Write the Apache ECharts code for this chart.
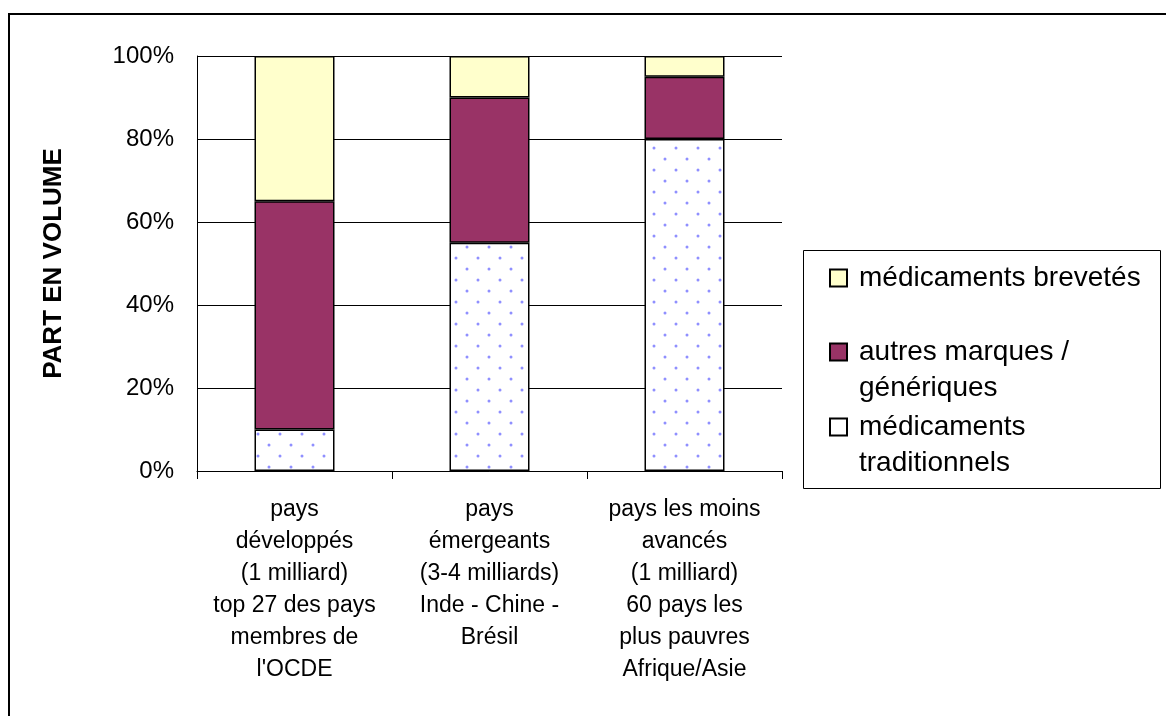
<!DOCTYPE html>
<html>
<head>
<meta charset="utf-8">
<script src="https://cdn.jsdelivr.net/npm/echarts@6/dist/echarts.min.js"></script>
<style>
html,body{margin:0;padding:0;background:#fff;}
#chart{width:1166px;height:716px;}
</style>
</head>
<body>
<div id="chart"></div>
<script>
const categories = [
  "pays\ndéveloppés\n(1 milliard)\ntop 27 des pays\nmembres de\nl'OCDE",
  "pays\némergeants\n(3-4 milliards)\nInde - Chine -\nBrésil",
  "pays les moins\navancés\n(1 milliard)\n60 pays les\nplus pauvres\nAfrique/Asie"
];
const seriesNames = ["médicaments traditionnels", "autres marques / génériques", "médicaments brevetés"];
const legendLabels = ["\nmédicaments\ntraditionnels", "\nautres marques /\ngénériques", "médicaments brevetés"];
const traditionnels = [10, 55, 80];
const generiques = [55, 35, 15];
const brevetes = [35, 10, 5];
const yTicks = [0, 20, 40, 60, 80, 100];

const FONT = "'Liberation Sans', Arial, sans-serif";

// dotted pattern tile for "traditionnels"
const tile = document.createElement('canvas');
tile.width = 22; tile.height = 22;
const tctx = tile.getContext('2d');
tctx.fillStyle = '#ffffff';
tctx.fillRect(0, 0, 22, 22);
tctx.fillStyle = '#8f8fff';
[[5, 5], [16, 16]].forEach(function (p) {
  tctx.beginPath();
  tctx.arc(p[0], p[1], 1.5, 0, Math.PI * 2);
  tctx.fill();
});

const chart = echarts.init(document.getElementById('chart'), null, {renderer: 'canvas'});

const barBorder = {borderColor: '#000', borderWidth: 1.5};
const legendText = {fontSize: 28, lineHeight: 36, color: '#000', fontFamily: FONT, padding: [0, 0, 0, 7]};

function makeLegend(idx, top, extra) {
  return Object.assign({
    orient: 'vertical', left: 829, top: top, padding: 0,
    itemWidth: 17, itemHeight: 17, icon: 'rect',
    formatter: function () { return legendLabels[idx]; },
    textStyle: legendText
  }, extra);
}

const option = {
  backgroundColor: '#fff',
  animation: false,
  textStyle: {fontFamily: FONT, color: '#000'},
  grid: {left: 197, top: 56, right: 384, bottom: 245, containLabel: false},
  xAxis: {
    type: 'category',
    data: categories,
    axisLine: {show: true, lineStyle: {color: '#000', width: 1}},
    axisTick: {show: true, length: 8, lineStyle: {color: '#000'}, alignWithLabel: false},
    axisLabel: {interval: 0, fontSize: 23, lineHeight: 32, color: '#000', margin: 23, fontFamily: FONT}
  },
  yAxis: {
    type: 'value',
    min: yTicks[0],
    max: yTicks[yTicks.length - 1],
    interval: 20,
    name: 'PART EN VOLUME',
    nameLocation: 'middle',
    nameGap: 130,
    nameRotate: 90,
    nameTextStyle: {fontSize: 26, fontWeight: 'bold', color: '#000', fontFamily: FONT},
    axisLine: {show: true, lineStyle: {color: '#000', width: 1}},
    axisTick: {show: false},
    splitLine: {show: true, lineStyle: {color: '#000', width: 1}},
    axisLabel: {formatter: '{value}%', fontSize: 24, color: '#000', margin: 23, fontFamily: FONT}
  },
  legend: [
    makeLegend(2, 260, {data: [{name: seriesNames[2]}]}),
    makeLegend(1, 298, {data: [{name: seriesNames[1]}]}),
    makeLegend(0, 373, {data: [{name: seriesNames[0], itemStyle: {color: '#ffffff'}}]})
  ],
  graphic: [
    {type: 'rect', shape: {x: 9, y: 14, width: 1200, height: 800}, style: {fill: 'none', stroke: '#000', lineWidth: 2}, silent: true, z: -1},
    {type: 'rect', shape: {x: 803.5, y: 250.5, width: 357, height: 238}, style: {fill: 'none', stroke: '#000', lineWidth: 1}, silent: true, z: -1}
  ],
  series: [
    {
      name: seriesNames[0], type: 'bar', stack: 'total', barWidth: 80,
      data: traditionnels,
      itemStyle: Object.assign({color: {image: tile, repeat: 'repeat'}}, barBorder)
    },
    {
      name: seriesNames[1], type: 'bar', stack: 'total', barWidth: 80,
      data: generiques,
      itemStyle: Object.assign({color: '#993366'}, barBorder)
    },
    {
      name: seriesNames[2], type: 'bar', stack: 'total', barWidth: 80,
      data: brevetes,
      itemStyle: Object.assign({color: '#ffffcc'}, barBorder)
    }
  ]
};
chart.setOption(option);
</script>
</body>
</html>
